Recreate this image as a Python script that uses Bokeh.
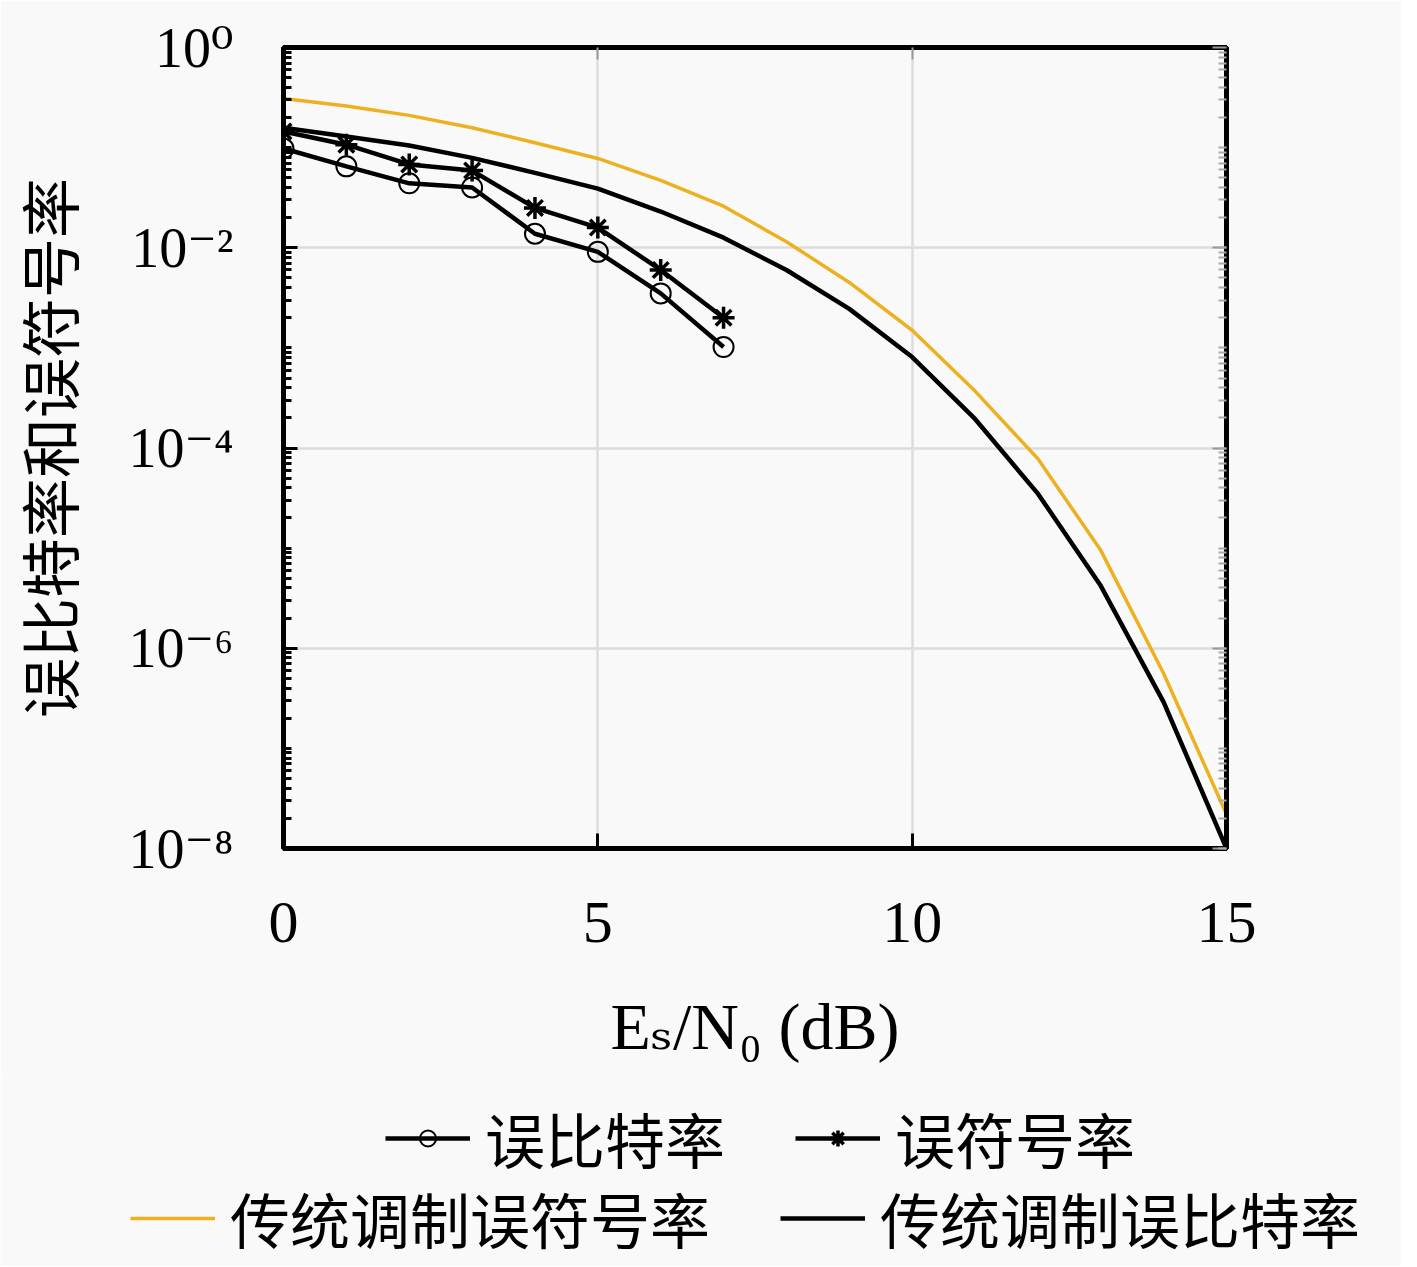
import math
from bokeh.plotting import figure
from bokeh.models import (Range1d, FixedTicker, LogAxis, LinearAxis,
                          Legend, LegendItem)
from bokeh.embed import file_html
from bokeh.resources import INLINE

# ---------------- data ----------------
snr_sim = [0, 1, 2, 3, 4, 5, 6, 7]
ber_sim = [0.098, 0.065, 0.044, 0.040, 0.0138, 0.0091, 0.0035, 0.00102]
ser_sim = [0.145, 0.107, 0.068, 0.059, 0.025, 0.0159, 0.0060, 0.0020]

snr_trad = [0, 1, 2, 3, 4, 5, 6, 7, 8, 9, 10, 11, 12, 13, 14, 15]
ser_trad = [0.31, 0.26, 0.21, 0.158, 0.112, 0.078, 0.047, 0.026, 0.0115,
            0.0045, 0.0015, 3.7e-4, 7.8e-5, 9.5e-6, 5.6e-7, 2.2e-8]
ber_trad = [0.158, 0.129, 0.105, 0.079, 0.056, 0.039, 0.023, 0.0126, 0.0060,
            0.00245, 8.1e-4, 1.95e-4, 3.5e-5, 4.2e-6, 2.9e-7, 1.0e-8]

x_ticks = [0, 5, 10, 15]
x_tick_labels = ["0", "5", "10", "15"]
y_ticks = [1e-8, 1e-6, 1e-4, 1e-2, 1e0]
y_tick_labels = ["10⁻⁸", "10⁻⁶", "10⁻⁴", "10⁻²", "10⁰"]
y_minor = [m * 10.0 ** e for e in range(-8, 0) for m in range(1, 10)]

legend_labels = ["误比特率", "误符号率", "传统调制误符号率", "传统调制误比特率"]
x_label = "Eₛ/N₀ (dB)"
y_label = "误比特率和误符号率"

BG = "#f9f9f9"
ORANGE = "#EDB120"
SERIF = "Liberation Serif, DejaVu Serif"
CJK = "Noto Sans CJK SC"
NAN = float("nan")

STY_BER = dict(line_color="black", line_width=4.5)
STY_CIRC = dict(marker="circle", size=20, line_color="black", line_width=2,
                fill_alpha=0)
STY_AST = dict(marker="asterisk", size=22, line_color="black", line_width=3.5)
STY_ORANGE = dict(line_color=ORANGE, line_width=3.5)

# ---------------- main plot ----------------
p = figure(width=1401, height=1075, x_range=Range1d(0, 15),
           y_range=Range1d(1e-8, 1), y_axis_type="log",
           output_backend="svg", toolbar_location=None,
           min_border_left=283, min_border_top=47,
           min_border_right=175, min_border_bottom=227)
p.background_fill_color = BG
p.border_fill_color = BG
p.outline_line_color = "black"
p.outline_line_width = 5

yt = FixedTicker(ticks=y_ticks, minor_ticks=y_minor)
xt = FixedTicker(ticks=x_ticks, minor_ticks=[])

ya = p.yaxis[0]
ya.ticker = yt
ya.major_label_overrides = {t: s for t, s in zip(y_ticks, y_tick_labels)}
ya.axis_line_width = 5
ya.major_tick_in = 14
ya.major_tick_out = 0
ya.minor_tick_in = 8
ya.minor_tick_out = 0
ya.major_tick_line_width = 3
ya.minor_tick_line_width = 3
ya.major_label_text_font = SERIF
ya.major_label_text_font_size = "56px"
ya.major_label_text_color = "black"
ya.major_label_standoff = 50
ya.axis_label = y_label
ya.axis_label_text_font = CJK
ya.axis_label_text_font_size = "60px"
ya.axis_label_text_font_style = "normal"
ya.axis_label_text_color = "black"
ya.axis_label_standoff = 34

xa = p.xaxis[0]
xa.ticker = xt
xa.major_label_overrides = {t: s for t, s in zip(x_ticks, x_tick_labels)}
xa.axis_line_width = 5
xa.major_tick_in = 15
xa.major_tick_out = 0
xa.major_tick_line_width = 3
xa.major_label_text_font = SERIF
xa.major_label_text_font_size = "60px"
xa.major_label_standoff = 54
xa.major_label_text_color = "black"
xa.axis_label = x_label
xa.axis_label_text_font = SERIF
xa.axis_label_text_font_size = "66px"
xa.axis_label_text_font_style = "normal"
xa.axis_label_text_color = "black"
xa.axis_label_standoff = 45

ra = LogAxis(ticker=yt, major_label_overrides={t: "" for t in y_ticks},
             axis_line_width=5, major_tick_in=14, major_tick_out=0,
             minor_tick_in=8, minor_tick_out=0, major_tick_line_color="#999999",
             minor_tick_line_color="#aaaaaa", major_tick_line_width=2,
             minor_tick_line_width=2)
p.add_layout(ra, "right")
ta = LinearAxis(ticker=xt, major_label_overrides={t: "" for t in x_ticks},
                axis_line_width=5, major_tick_in=12, major_tick_out=0,
                major_tick_line_color="#999999", major_tick_line_width=2)
p.add_layout(ta, "above")

p.xgrid.ticker = xt
p.ygrid.ticker = yt
p.xgrid.grid_line_color = "#dcdcdc"
p.ygrid.grid_line_color = "#dcdcdc"
p.xgrid.grid_line_width = 2.5
p.ygrid.grid_line_width = 2.5

p.line(snr_trad, ser_trad, **STY_ORANGE)
p.line(snr_trad, ber_trad, **STY_BER)
p.line(snr_sim, ber_sim, **STY_BER)
p.scatter(snr_sim, ber_sim, **STY_CIRC)
p.line(snr_sim, ser_sim, **STY_BER)
p.scatter(snr_sim, ser_sim, **STY_AST)

# ---------------- legend strip (separate root, below the plot) ----------------
q = figure(width=1401, height=191, x_range=Range1d(0, 1), y_range=Range1d(0, 1),
           output_backend="svg", toolbar_location=None,
           x_axis_location=None, y_axis_location=None,
           min_border=0)
q.background_fill_color = BG
q.border_fill_color = BG
q.outline_line_color = None
q.grid.visible = False

# legend proxies (no visible marks)
k_ber_l = q.line([NAN], [NAN], **STY_BER)
k_ber_m = q.scatter([NAN], [NAN], **STY_CIRC)
k_ser_l = q.line([NAN], [NAN], **STY_BER)
k_ser_m = q.scatter([NAN], [NAN], **STY_AST)
k_ser_t = q.line([NAN], [NAN], **STY_ORANGE)
k_ber_t = q.line([NAN], [NAN], **STY_BER)

def make_legend(items, loc, spacing):
    return Legend(items=items, location=loc, orientation="horizontal",
                  label_text_font=CJK, label_text_font_size="60px",
                  label_text_color="black",
                  glyph_width=85, glyph_height=40, label_standoff=15,
                  spacing=spacing, padding=0, margin=0,
                  border_line_alpha=0, background_fill_alpha=0)

lg1 = make_legend([LegendItem(label=legend_labels[0], renderers=[k_ber_l, k_ber_m]),
                   LegendItem(label=legend_labels[1], renderers=[k_ser_l, k_ser_m])],
                  (385, 85), 70)
lg2 = make_legend([LegendItem(label=legend_labels[2], renderers=[k_ser_t]),
                   LegendItem(label=legend_labels[3], renderers=[k_ber_t])],
                  (130, 5), 70)
q.add_layout(lg1, "center")
q.add_layout(lg2, "center")

open("out.html", "w").write(file_html([p, q], INLINE))
